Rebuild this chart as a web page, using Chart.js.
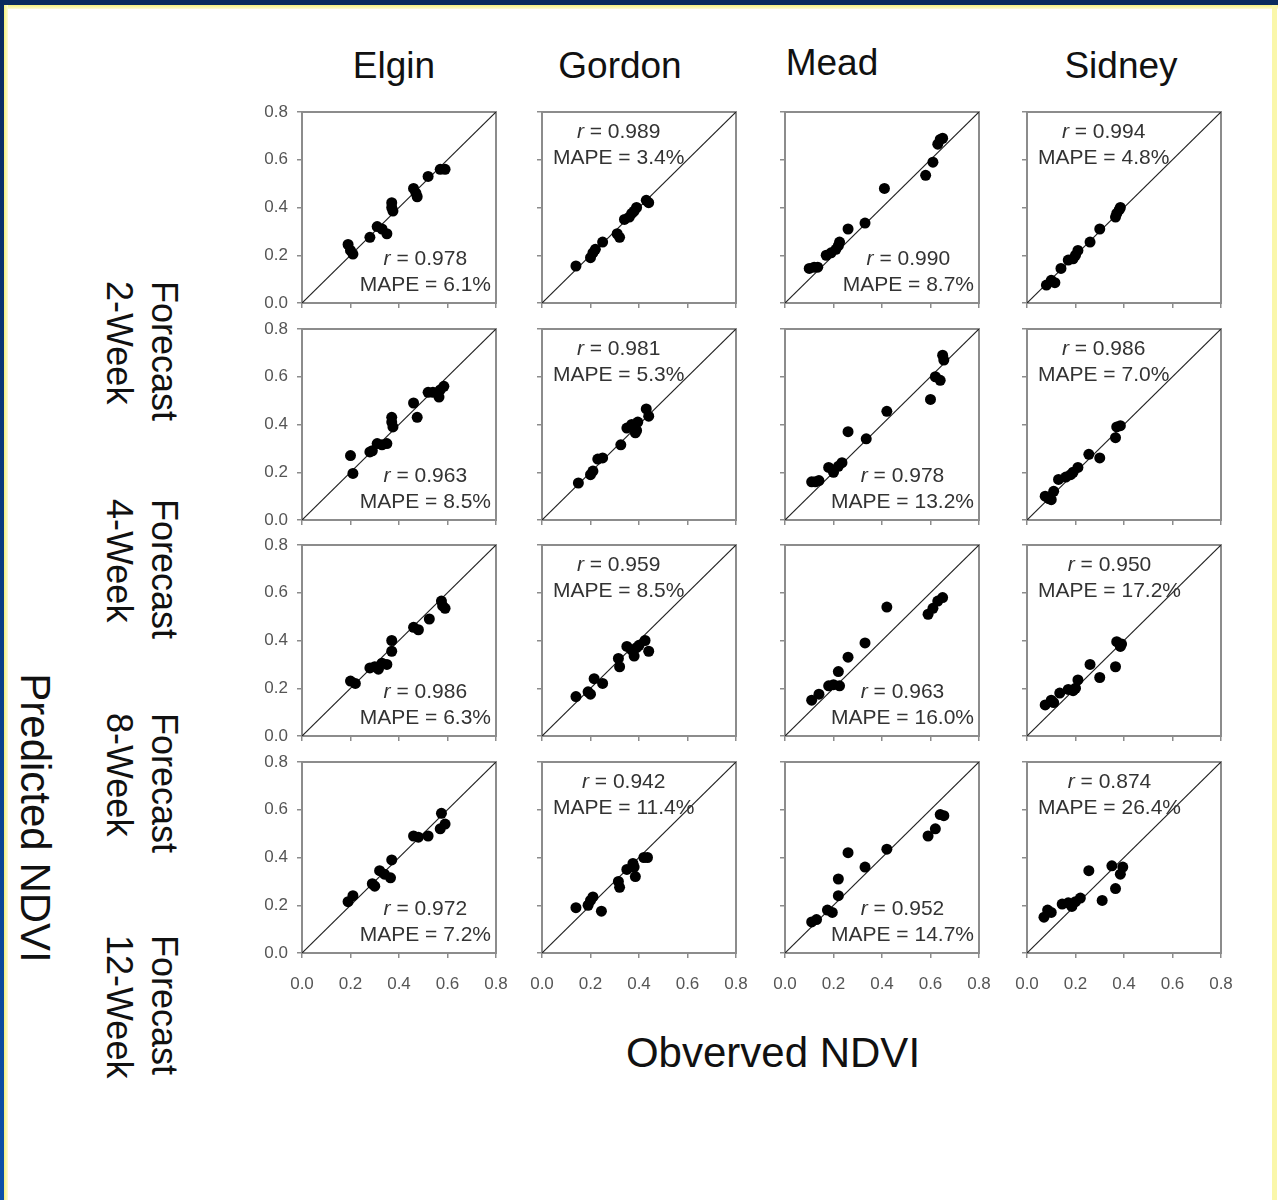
<!DOCTYPE html>
<html><head><meta charset="utf-8">
<script src="https://cdn.jsdelivr.net/npm/chart.js@4.4.0/dist/chart.umd.min.js"></script>
<style>
html,body{margin:0;padding:0;background:#fff;}
#page{position:relative;width:1278px;height:1200px;overflow:hidden;background:#fff;font-family:"Liberation Sans",Arial,Helvetica,sans-serif;}
.lbl{position:absolute;white-space:nowrap;color:#111;}
.fr{position:absolute;}
</style>
</head><body>
<div id="page">
  <div class="fr" style="left:0;top:0;width:1278px;height:5px;background:#0a2a5e;"></div>
  <div class="fr" style="left:4px;top:5px;width:1274px;height:4px;background:linear-gradient(#f6f07a,#fdfbd8);"></div>
  <div class="fr" style="left:0;top:0;width:4px;height:1200px;background:linear-gradient(#0a2a5e,#0c50a8);"></div>
  <div class="fr" style="left:4px;top:5px;width:4px;height:1195px;background:linear-gradient(90deg,#f6f07a,#fdfbd8);"></div>
  <div class="fr" style="left:1272px;top:5px;width:5px;height:1195px;background:#faf7aa;"></div>
</div>
<script>
// ---------- data ----------
const sites = ['Elgin', 'Gordon', 'Mead', 'Sidney'];
const horizons = ['2-Week', '4-Week', '8-Week', '12-Week'];
const tickLabels = ['0.0', '0.2', '0.4', '0.6', '0.8'];
const oneToOne = [0, 0.8];
const xTitle = 'Obverved NDVI';
const yTitle = 'Predicted NDVI';

// r and MAPE (%) per horizon, in site order
const r2wk = ['0.978', '0.989', '0.990', '0.994'];
const mape2wk = ['6.1', '3.4', '8.7', '4.8'];
const r4wk = ['0.963', '0.981', '0.978', '0.986'];
const mape4wk = ['8.5', '5.3', '13.2', '7.0'];
const r8wk = ['0.986', '0.959', '0.963', '0.950'];
const mape8wk = ['6.3', '8.5', '16.0', '17.2'];
const r12wk = ['0.972', '0.942', '0.952', '0.874'];
const mape12wk = ['7.2', '11.4', '14.7', '26.4'];

// [observed, predicted] pairs
const elgin2wk = [[0.19,0.245],[0.20,0.22],[0.21,0.205],[0.28,0.275],[0.31,0.32],[0.33,0.31],[0.35,0.29],[0.37,0.42],[0.37,0.40],[0.375,0.385],[0.46,0.48],[0.47,0.46],[0.475,0.445],[0.52,0.53],[0.57,0.56],[0.59,0.56]];
const gordon2wk = [[0.14,0.155],[0.20,0.19],[0.21,0.21],[0.22,0.225],[0.25,0.255],[0.31,0.29],[0.32,0.275],[0.34,0.35],[0.36,0.36],[0.37,0.375],[0.38,0.385],[0.39,0.40],[0.43,0.43],[0.44,0.42]];
const mead2wk = [[0.10,0.145],[0.12,0.15],[0.135,0.15],[0.17,0.20],[0.19,0.21],[0.21,0.225],[0.22,0.24],[0.225,0.255],[0.26,0.31],[0.33,0.335],[0.41,0.48],[0.58,0.535],[0.61,0.59],[0.63,0.665],[0.64,0.685],[0.65,0.69]];
const sidney2wk = [[0.08,0.075],[0.10,0.095],[0.115,0.085],[0.14,0.145],[0.17,0.18],[0.19,0.185],[0.20,0.20],[0.21,0.22],[0.26,0.255],[0.30,0.31],[0.365,0.36],[0.37,0.375],[0.38,0.39],[0.385,0.40]];

const elgin4wk = [[0.20,0.27],[0.21,0.195],[0.28,0.285],[0.29,0.29],[0.31,0.32],[0.33,0.315],[0.35,0.32],[0.37,0.43],[0.37,0.41],[0.375,0.39],[0.46,0.49],[0.475,0.43],[0.52,0.535],[0.54,0.535],[0.565,0.515],[0.57,0.545],[0.585,0.56]];
const gordon4wk = [[0.15,0.155],[0.20,0.19],[0.21,0.205],[0.23,0.255],[0.25,0.26],[0.325,0.315],[0.35,0.385],[0.37,0.40],[0.385,0.365],[0.39,0.375],[0.395,0.41],[0.43,0.465],[0.44,0.435]];
const mead4wk = [[0.11,0.16],[0.125,0.16],[0.14,0.165],[0.18,0.22],[0.20,0.20],[0.22,0.225],[0.235,0.24],[0.26,0.37],[0.335,0.34],[0.42,0.455],[0.60,0.505],[0.62,0.60],[0.64,0.585],[0.65,0.69],[0.655,0.67]];
const sidney4wk = [[0.075,0.10],[0.09,0.09],[0.11,0.12],[0.10,0.085],[0.13,0.17],[0.16,0.18],[0.18,0.19],[0.19,0.20],[0.21,0.22],[0.255,0.275],[0.30,0.26],[0.365,0.345],[0.37,0.39],[0.385,0.395]];

const elgin8wk = [[0.20,0.23],[0.22,0.22],[0.28,0.285],[0.30,0.29],[0.315,0.28],[0.33,0.305],[0.35,0.30],[0.37,0.40],[0.37,0.355],[0.46,0.455],[0.48,0.445],[0.525,0.49],[0.575,0.565],[0.58,0.545],[0.59,0.535]];
const gordon8wk = [[0.14,0.165],[0.19,0.185],[0.20,0.175],[0.215,0.24],[0.25,0.22],[0.315,0.325],[0.32,0.29],[0.35,0.375],[0.37,0.36],[0.38,0.335],[0.39,0.37],[0.40,0.38],[0.425,0.40],[0.44,0.355]];
const mead8wk = [[0.11,0.15],[0.14,0.175],[0.18,0.21],[0.20,0.215],[0.225,0.21],[0.22,0.27],[0.26,0.33],[0.33,0.39],[0.42,0.54],[0.59,0.51],[0.61,0.535],[0.63,0.565],[0.65,0.58]];
const sidney8wk = [[0.075,0.13],[0.10,0.15],[0.11,0.14],[0.135,0.18],[0.17,0.195],[0.19,0.19],[0.20,0.20],[0.21,0.235],[0.26,0.30],[0.30,0.245],[0.365,0.29],[0.37,0.395],[0.385,0.375],[0.39,0.385]];

const elgin12wk = [[0.19,0.215],[0.21,0.24],[0.29,0.29],[0.30,0.28],[0.32,0.345],[0.34,0.33],[0.365,0.315],[0.37,0.39],[0.46,0.49],[0.48,0.485],[0.52,0.49],[0.575,0.585],[0.57,0.52],[0.59,0.54]];
const gordon12wk = [[0.14,0.19],[0.19,0.20],[0.20,0.22],[0.21,0.235],[0.245,0.175],[0.315,0.30],[0.32,0.275],[0.35,0.35],[0.375,0.375],[0.38,0.36],[0.385,0.32],[0.42,0.40],[0.435,0.40]];
const mead12wk = [[0.11,0.13],[0.13,0.14],[0.175,0.18],[0.195,0.17],[0.22,0.24],[0.22,0.31],[0.26,0.42],[0.33,0.36],[0.42,0.435],[0.59,0.49],[0.62,0.52],[0.64,0.58],[0.655,0.575]];
const sidney12wk = [[0.07,0.15],[0.085,0.18],[0.10,0.17],[0.145,0.205],[0.17,0.21],[0.185,0.195],[0.20,0.215],[0.22,0.23],[0.255,0.345],[0.31,0.22],[0.35,0.365],[0.365,0.27],[0.385,0.33],[0.395,0.36]];

// ---------- assembly ----------
const panels = [
  [elgin2wk, gordon2wk, mead2wk, sidney2wk],
  [elgin4wk, gordon4wk, mead4wk, sidney4wk],
  [elgin8wk, gordon8wk, mead8wk, sidney8wk],
  [elgin12wk, gordon12wk, mead12wk, sidney12wk]
];
const rRows = [r2wk, r4wk, r8wk, r12wk];
const mapeRows = [mape2wk, mape4wk, mape8wk, mape12wk];

// ---------- layout ----------
const FONT = '"Liberation Sans", Arial, Helvetica, sans-serif';
Chart.defaults.font.family = FONT;
const PANEL_LEFT = [302, 542, 785, 1027];
const PANEL_TOP = [112, 329, 545, 762];
const PANEL_W = 194, PANEL_H = 191;
const AX_W = 55, AX_H = 50, PAD_T = 24, PAD_R = 36;
const CV_W = AX_W + PANEL_W + PAD_R, CV_H = PAD_T + PANEL_H + AX_H;
const page = document.getElementById('page');

function addLabel(html, css) {
  const d = document.createElement('div');
  d.className = 'lbl';
  d.innerHTML = html;
  d.style.cssText += css;
  page.appendChild(d);
  return d;
}
const titleCX = [394, 620, 832, 1121];
const titleCY = [66, 66, 63, 66];
sites.forEach((s, i) => addLabel(s, `left:${titleCX[i]}px;top:${titleCY[i]}px;font-size:37px;transform:translate(-50%,-50%);`));
addLabel(xTitle, 'left:773px;top:1053px;font-size:42px;transform:translate(-50%,-50%);');
addLabel(yTitle, 'left:35px;top:818px;font-size:42px;transform:translate(-50%,-50%) rotate(90deg);');
const rowLabelTop = [281, 499, 713, 935];
horizons.forEach((h, i) => addLabel('Forecast<br>' + h,
  `left:187px;top:${rowLabelTop[i]}px;font-size:36px;line-height:45px;transform-origin:0 0;transform:rotate(90deg);text-align:left;`));

const boxPlugin = {
  id: 'box',
  beforeDatasetsDraw(chart) {
    const { ctx, chartArea: a } = chart;
    ctx.save();
    ctx.strokeStyle = '#8c8c8c';
    ctx.lineWidth = 2;
    ctx.strokeRect(a.left, a.top, a.right - a.left, a.bottom - a.top);
    ctx.restore();
  }
};

function statsPlugin(rText, mapeText, corner) {
  return {
    id: 'stats',
    afterDatasetsDraw(chart) {
      const { ctx, chartArea: a } = chart;
      const fn = '21px ' + FONT, fi = 'italic 21px ' + FONT;
      ctx.save();
      ctx.fillStyle = '#333';
      ctx.textBaseline = 'middle';
      ctx.textAlign = 'left';
      const mapeStr = 'MAPE = ' + mapeText + '%';
      const rest = ' = ' + rText;
      ctx.font = fn;
      const mw = ctx.measureText(mapeStr).width;
      const rw2 = ctx.measureText(rest).width;
      ctx.font = fi;
      const rw1 = ctx.measureText('r').width;
      let cx, yR, yM;
      if (corner === 'br') { cx = a.right - 5 - mw / 2; yR = a.bottom - 44; yM = a.bottom - 18; }
      else { cx = a.left + 11 + mw / 2; yR = a.top + 20; yM = a.top + 46; }
      ctx.font = fn;
      ctx.fillText(mapeStr, cx - mw / 2, yM);
      const rx = cx - (rw1 + rw2) / 2;
      ctx.font = fi;
      ctx.fillText('r', rx, yR);
      ctx.font = fn;
      ctx.fillText(rest, rx + rw1, yR);
      ctx.restore();
    }
  };
}

function tickCb(v) {
  const i = Math.round(v / 0.2);
  return tickLabels[i] !== undefined ? tickLabels[i] : '';
}

for (let r = 0; r < 4; r++) {
  for (let c = 0; c < 4; c++) {
    const wrap = document.createElement('div');
    wrap.style.cssText = `position:absolute;left:${PANEL_LEFT[c] - AX_W}px;top:${PANEL_TOP[r] - PAD_T}px;width:${CV_W}px;height:${CV_H}px;`;
    const cv = document.createElement('canvas');
    cv.width = CV_W; cv.height = CV_H;
    cv.style.width = CV_W + 'px'; cv.style.height = CV_H + 'px';
    wrap.appendChild(cv);
    page.appendChild(wrap);

    const pts = panels[r][c].map(p => ({ x: p[0], y: p[1] }));
    const diag = oneToOne.map(v => ({ x: v, y: v }));
    const corner = (c === 0 || c === 2) ? 'br' : 'tl';
    const gridOpts = { display: true, drawOnChartArea: false, drawTicks: true, tickLength: 5, color: '#8c8c8c', lineWidth: 1.5 };

    new Chart(cv, {
      type: 'scatter',
      data: {
        datasets: [
          { data: diag, showLine: true, borderColor: '#222', borderWidth: 1.2, pointRadius: 0, order: 2 },
          { data: pts, backgroundColor: '#000', borderColor: '#000', borderWidth: 0, pointRadius: 5.5, order: 1 }
        ]
      },
      options: {
        responsive: false, animation: false, devicePixelRatio: 1, events: [],
        layout: { padding: { left: 0, top: PAD_T, right: PAD_R, bottom: 0 } },
        plugins: { legend: { display: false }, tooltip: { enabled: false } },
        scales: {
          x: {
            type: 'linear', min: 0, max: 0.8,
            ticks: { stepSize: 0.2, display: r === 3, color: '#555', font: { size: 17 }, padding: 16, callback: tickCb, maxRotation: 0 },
            grid: gridOpts, border: { display: false },
            afterFit: s => { s.height = AX_H; }
          },
          y: {
            type: 'linear', min: 0, max: 0.8,
            ticks: { stepSize: 0.2, display: c === 0, color: '#555', font: { size: 17 }, padding: 9, callback: tickCb },
            grid: gridOpts, border: { display: false },
            afterFit: s => { s.width = AX_W; }
          }
        }
      },
      plugins: [boxPlugin, statsPlugin(rRows[r][c], mapeRows[r][c], corner)]
    });
  }
}
</script>
</body></html>
